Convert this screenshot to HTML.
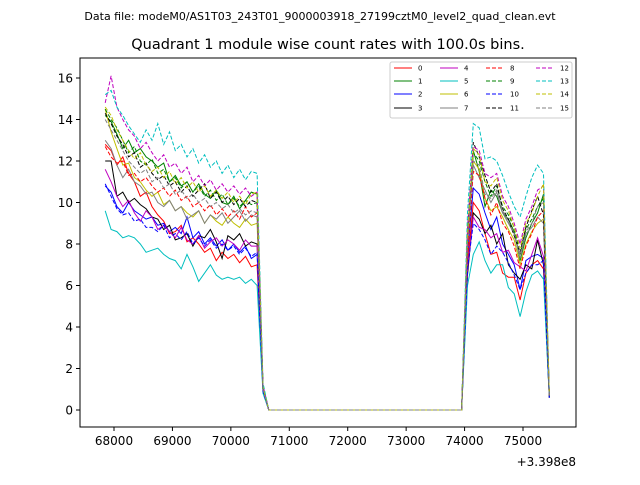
<!DOCTYPE html>
<html><head><meta charset="utf-8"><style>
body{margin:0;background:#fff;font-family:"Liberation Sans","DejaVu Sans",sans-serif}
svg text{font-family:"DejaVu Sans","Liberation Sans",sans-serif}
</style></head><body>
<svg id="chart" width="640" height="480" viewBox="0 0 640 480" xmlns="http://www.w3.org/2000/svg">
<rect width="640" height="480" fill="#fff"/>
<text x="320" y="20" font-size="11" text-anchor="middle">Data file: modeM0/AS1T03_243T01_9000003918_27199cztM0_level2_quad_clean.evt</text>
<text x="328" y="49" font-size="14.5" text-anchor="middle">Quadrant 1 module wise count rates with 100.0s bins.</text>
<g id="plot"></g>
<rect x="80" y="58" width="496" height="369" fill="none" stroke="#000" stroke-width="1"/>
<g id="axes"></g>
<text x="576" y="466" font-size="12" text-anchor="end">+3.398e8</text>
<g id="legend"></g>
</svg>
<script>
const t1=[67850,67950,68050,68150,68250,68350,68450,68550,68650,68750,68850,68950,69050,69150,69250,69350,69450,69550,69650,69750,69850,69950,70050,70150,70250,70350,70450,70550];
const t2=[70650,70750,70850,70950,71050,71150,71250,71350,71450,71550,71650,71750,71850,71950,72050,72150,72250,72350,72450,72550,72650,72750,72850,72950,73050,73150,73250,73350,73450,73550,73650,73750,73850,73950];
const gapValues=[0,0,0,0,0,0,0,0,0,0,0,0,0,0,0,0,0,0,0,0,0,0,0,0,0,0,0,0,0,0,0,0,0,0];
const t3=[74050,74150,74250,74350,74450,74550,74650,74750,74850,74950,75050,75150,75250,75350,75450];
const xTicks=[68000,69000,70000,71000,72000,73000,74000,75000];
const yTicks=[0,2,4,6,8,10,12,14,16];
const seriesNames=["0","1","2","3","4","5","6","7","8","9","10","11","12","13","14","15"];
const colors=["#ff0000","#008000","#0000ff","#000000","#bf00bf","#00bfbf","#bfbf00","#808080","#ff0000","#008000","#0000ff","#000000","#bf00bf","#00bfbf","#bfbf00","#808080"];
const seg1=[
[12.8,12.5,11.8,12.2,11.4,11.0,10.3,10.5,9.8,9.4,9.1,8.5,8.6,8.9,8.1,8.3,8.0,7.6,7.8,7.2,7.6,7.3,7.5,7.1,7.4,6.9,7.0,1.0],
[14.2,13.9,13.3,12.6,13.0,12.4,12.6,12.2,12.0,11.7,11.9,11.0,11.3,10.8,11.0,10.5,10.9,10.4,10.2,10.6,10.0,9.9,10.3,9.7,10.1,10.5,10.4,1.1],
[10.8,10.5,9.8,9.5,10.0,9.6,9.4,9.2,9.3,8.9,9.0,8.6,8.8,8.5,9.3,8.3,8.6,8.0,8.3,7.9,8.2,7.7,8.0,7.6,7.9,7.3,7.5,0.9],
[12.0,12.0,10.3,10.5,10.0,10.2,9.9,9.7,9.3,9.2,8.7,8.9,8.2,8.3,8.5,7.9,8.4,8.3,8.7,8.1,7.3,8.4,8.2,8.5,7.9,8.1,8.0,1.0],
[11.6,11.0,10.3,9.8,10.1,9.5,9.1,9.6,9.3,8.7,8.9,8.6,8.3,8.8,8.2,8.0,8.4,7.8,8.1,8.3,7.9,8.2,8.0,7.7,8.2,7.9,7.9,0.9],
[9.6,8.7,8.6,8.3,8.4,8.3,8.0,7.6,7.7,7.8,7.5,7.3,7.2,6.8,7.5,6.9,6.2,6.6,7.0,6.5,6.3,6.4,6.3,6.4,6.1,6.3,6.0,0.8],
[14.5,13.4,12.6,11.8,11.9,11.2,11.0,10.6,10.3,10.5,9.9,10.1,9.6,9.8,9.5,9.3,9.6,9.0,9.4,9.1,8.9,9.3,9.0,8.8,9.2,8.9,9.0,1.0],
[13.0,12.6,11.8,11.2,11.6,11.0,10.8,10.4,10.5,10.0,9.8,10.1,9.6,9.8,9.2,9.4,9.6,9.0,9.4,9.2,9.5,9.0,9.3,9.6,9.1,9.4,9.3,1.1],
[12.7,12.2,11.9,12.0,11.3,11.4,11.0,11.2,10.8,10.5,10.7,10.3,10.6,10.1,10.3,9.8,10.0,9.6,9.9,9.4,9.7,9.3,9.6,9.2,9.8,9.3,9.5,1.0],
[14.5,14.0,13.6,13.0,12.4,12.7,12.0,11.8,12.1,11.4,11.6,11.0,11.2,10.7,11.0,10.5,10.8,10.3,10.6,10.1,10.4,9.9,10.2,9.8,10.1,9.9,10.0,1.1],
[10.9,10.3,9.7,9.4,9.5,9.1,9.2,8.8,8.8,8.6,8.9,8.3,8.5,8.2,8.6,8.0,8.3,7.9,8.2,7.8,8.0,7.7,7.9,7.5,7.8,7.4,7.6,0.9],
[14.3,13.8,13.2,12.8,12.2,12.4,11.7,11.9,11.4,11.1,11.3,10.8,11.0,10.5,10.8,10.3,10.6,10.9,10.2,10.5,10.0,10.3,9.9,10.2,9.8,10.1,10.0,1.1],
[14.8,16.1,14.6,14.0,13.5,13.2,12.6,12.9,12.4,12.0,12.3,11.7,11.9,11.4,11.7,11.0,11.3,10.8,11.1,10.6,10.9,10.5,10.8,10.4,10.7,10.3,10.5,1.2],
[15.2,15.4,14.6,14.2,13.7,13.3,12.9,13.5,13.0,13.8,12.8,13.4,12.5,12.8,12.2,12.6,11.9,12.3,11.7,12.0,11.4,11.8,11.2,11.6,11.1,11.5,11.4,1.3],
[14.6,14.2,13.5,13.0,12.5,12.1,12.4,11.8,11.5,11.7,11.2,11.5,10.9,11.2,10.7,11.0,10.5,10.8,10.3,10.6,10.2,10.5,10.0,10.3,9.9,10.4,10.5,1.1],
[14.0,13.5,13.0,12.5,12.0,11.7,11.4,11.6,11.0,11.2,10.7,10.9,10.4,10.6,10.2,10.4,10.0,10.2,9.8,10.0,9.7,9.9,9.5,9.7,9.4,9.6,9.5,1.0]];
const seg3=[
[7.0,10.0,9.6,8.5,7.5,7.6,6.6,6.4,6.4,5.3,6.6,7.0,7.2,6.8,0.6],
[8.5,12.5,11.5,9.8,10.6,10.3,9.5,9.2,8.6,7.2,8.3,9.0,9.5,10.4,0.7],
[7.5,10.7,10.4,9.5,8.7,9.3,8.0,7.5,7.0,5.8,7.2,7.4,7.5,7.3,0.6],
[6.5,9.5,9.2,8.5,8.9,8.0,8.5,7.0,6.6,6.3,7.0,6.8,8.2,7.0,0.6],
[6.8,9.3,8.8,8.7,8.3,8.5,7.6,7.7,7.1,6.9,6.7,7.5,8.3,7.4,0.6],
[6.0,7.5,8.1,7.2,6.6,7.0,7.0,5.9,5.6,4.5,5.7,6.5,6.7,6.3,0.6],
[8.0,12.0,11.6,10.2,9.6,9.8,9.3,8.7,8.2,7.0,8.0,8.6,9.0,9.2,0.7],
[8.0,11.8,11.2,10.6,10.0,10.5,9.5,9.0,8.5,7.3,8.5,8.8,9.3,9.0,0.7],
[7.5,11.5,11.3,10.2,9.4,10.0,9.0,8.6,7.9,6.8,7.9,8.5,9.3,9.6,0.7],
[8.5,12.4,12.0,11.0,10.3,10.8,9.8,9.4,8.8,7.5,8.7,9.2,9.8,10.2,0.7],
[6.8,9.0,8.7,8.2,7.5,7.9,7.6,7.1,6.5,5.8,6.6,7.0,7.0,7.2,0.6],
[8.5,12.9,12.2,11.3,10.5,10.9,9.7,9.2,8.4,7.6,8.8,9.6,10.3,9.4,0.7],
[8.8,12.7,12.5,11.4,11.2,11.4,10.3,9.8,9.0,8.0,9.2,9.8,10.6,10.8,0.7],
[9.5,13.8,13.6,12.1,12.2,12.0,11.3,10.5,9.8,9.3,10.3,11.2,11.8,11.4,0.8],
[8.5,12.6,12.3,11.0,10.8,11.2,10.1,9.6,8.8,7.8,9.0,9.5,10.3,10.9,0.7],
[8.0,12.0,11.8,10.4,10.2,10.6,9.6,9.1,8.5,7.5,8.6,9.0,9.8,10.0,0.7]];

const X0=80,X1=576,Y0=58,Y1=427;
function xs(t){return 114+(t-68000)*(523-114)/7000;}
function ys(v){return 410-v*(410-78)/16;}
const NS="http://www.w3.org/2000/svg";
const plot=document.getElementById('plot');
for(let i=0;i<16;i++){
  const ts=t1.concat(t2,t3), vs=seg1[i].concat(gapValues,seg3[i]);
  const p=document.createElementNS(NS,'polyline');
  p.setAttribute('points',ts.map((t,k)=>xs(t).toFixed(1)+','+ys(vs[k]).toFixed(1)).join(' '));
  p.setAttribute('fill','none');p.setAttribute('stroke',colors[i]);p.setAttribute('stroke-width','1');
  if(i>=8)p.setAttribute('stroke-dasharray','4,2');
  
  
  plot.appendChild(p);
}
const axes=document.getElementById('axes');
xTicks.forEach(t=>{
  const x=xs(t);
  const l=document.createElementNS(NS,'line');
  l.setAttribute('x1',x);l.setAttribute('x2',x);l.setAttribute('y1',Y1);l.setAttribute('y2',Y1+4);l.setAttribute('stroke','#000');
  
  
  axes.appendChild(l);
  const tx=document.createElementNS(NS,'text');
  tx.setAttribute('x',x);tx.setAttribute('y',Y1+18);tx.setAttribute('font-size','12');tx.setAttribute('text-anchor','middle');tx.textContent=t;
  
  
  axes.appendChild(tx);
});
yTicks.forEach(v=>{
  const y=ys(v);
  const l=document.createElementNS(NS,'line');
  l.setAttribute('x1',X0-4);l.setAttribute('x2',X0);l.setAttribute('y1',y);l.setAttribute('y2',y);l.setAttribute('stroke','#000');
  
  
  axes.appendChild(l);
  const tx=document.createElementNS(NS,'text');
  tx.setAttribute('x',X0-7);tx.setAttribute('y',y+4.5);tx.setAttribute('font-size','12');tx.setAttribute('text-anchor','end');tx.textContent=v;
  
  
  axes.appendChild(tx);
});
const lg=document.getElementById('legend');
const box=document.createElementNS(NS,'rect');
box.setAttribute('x',390);box.setAttribute('y',62);box.setAttribute('width',182);box.setAttribute('height',56);box.setAttribute('rx',2);
box.setAttribute('fill','#fff');box.setAttribute('fill-opacity','0.8');box.setAttribute('stroke','#ccc');


lg.appendChild(box);
const colX=[394,440,486,536],rowY=[68,81,94,108];
for(let i=0;i<16;i++){
  const c=Math.floor(i/4),r=i%4;
  const g=document.createElementNS(NS,'g');
  
  
  const l=document.createElementNS(NS,'line');
  l.setAttribute('x1',colX[c]);l.setAttribute('x2',colX[c]+18);l.setAttribute('y1',rowY[r]);l.setAttribute('y2',rowY[r]);
  l.setAttribute('stroke',colors[i]);if(i>=8)l.setAttribute('stroke-dasharray','4,2');
  g.appendChild(l);
  const tx=document.createElementNS(NS,'text');
  tx.setAttribute('x',colX[c]+24);tx.setAttribute('y',rowY[r]+2.5);tx.setAttribute('font-size','7');tx.textContent=seriesNames[i];
  g.appendChild(tx);
  lg.appendChild(g);
}
</script>
</body></html>
